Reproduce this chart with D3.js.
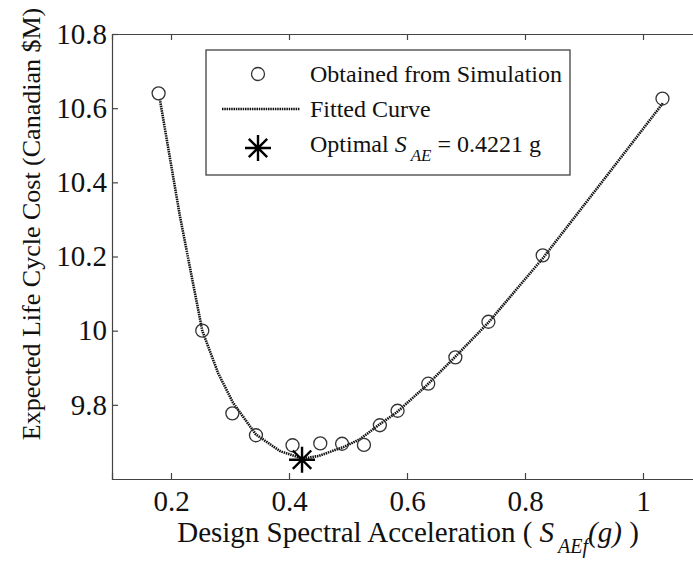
<!DOCTYPE html>
<html>
<head>
<meta charset="utf-8">
<script src="https://cdn.jsdelivr.net/npm/d3@7"></script>
<style>
  body { margin: 0; background: #fff; }
  svg text { font-family: "Liberation Serif", "Times New Roman", serif; }
</style>
</head>
<body>
<div id="vis"></div>
<script>
// simulation results (S_AEf in g, cost in Canadian $M)
var simX = [0.179, 0.253, 0.304, 0.344, 0.406, 0.453, 0.490, 0.527, 0.554, 0.584, 0.636, 0.682, 0.738, 0.830, 1.033];
var simY = [10.640, 10.000, 9.777, 9.718, 9.691, 9.696, 9.695, 9.692, 9.745, 9.784, 9.857, 9.928, 10.024, 10.203, 10.626];

// fitted curve
var fitX = [0.181, 0.215, 0.253, 0.280, 0.305, 0.344, 0.385, 0.413, 0.4221, 0.450, 0.492, 0.520, 0.554, 0.582, 0.633, 0.682, 0.738, 0.830, 0.930, 1.034];
var fitY = [10.625, 10.31, 10.000, 9.885, 9.806, 9.720, 9.675, 9.660, 9.655, 9.662, 9.686, 9.707, 9.748, 9.779, 9.852, 9.930, 10.022, 10.195, 10.400, 10.614];

var optX = 0.4221, optY = 9.652;

var xTicks = [0.2, 0.4, 0.6, 0.8, 1];
var yTicks = [9.8, 10, 10.2, 10.4, 10.6, 10.8];

var width = 693, height = 565;
var margin = {left: 112, top: 34, bottom: 86};

var x = d3.scaleLinear().domain([0.1, 1.1]).range([margin.left, margin.left + 590]);
var y = d3.scaleLinear().domain([9.6, 10.8]).range([height - margin.bottom, margin.top]);

var svg = d3.select("#vis").append("svg")
    .attr("width", width)
    .attr("height", height);

// axes, MATLAB style ticks pointing inward
var gx = svg.append("g").attr("transform", "translate(0," + y(9.6) + ")")
    .call(d3.axisBottom(x).tickValues(xTicks).tickSize(-6).tickPadding(11).tickFormat(d3.format("~g")));
var gxTop = svg.append("g").attr("transform", "translate(0," + y(10.8) + ")")
    .call(d3.axisTop(x).tickValues(xTicks).tickSize(-6).tickFormat(""));
var gy = svg.append("g").attr("transform", "translate(" + x(0.1) + ",0)")
    .call(d3.axisLeft(y).tickValues(yTicks).tickSize(-6).tickPadding(5).tickFormat(d3.format("~g")));

[gx, gxTop, gy].forEach(function(g){
    g.attr("font-family", null).attr("font-size", null);
    g.select(".domain").attr("stroke", "#444").attr("stroke-width", 1.2);
    g.selectAll(".tick line").attr("stroke", "#444").attr("stroke-width", 1.2);
    g.selectAll(".tick text")
        .style("font-size", "29px")
        .style("font-family", "'Liberation Serif', serif")
        .attr("fill", "#111");
});

// fitted curve
var line = d3.line().x(function(d){ return x(d[0]); }).y(function(d){ return y(d[1]); });
svg.append("path")
    .datum(d3.zip(fitX, fitY))
    .attr("d", line)
    .attr("fill", "none")
    .attr("stroke", "#111")
    .attr("stroke-width", 2.6)
    .attr("stroke-dasharray", "1.5,0.8");

// simulation points
svg.selectAll(".pt").data(d3.zip(simX, simY)).enter()
    .append("circle")
    .attr("class", "pt")
    .attr("cx", function(d){ return x(d[0]); })
    .attr("cy", function(d){ return y(d[1]); })
    .attr("r", 6.5)
    .attr("fill", "none")
    .attr("stroke", "#333")
    .attr("stroke-width", 1.3);

function star(g, cx, cy, r){
    var a = r * Math.SQRT1_2;
    var p = "M" + (cx - r) + "," + cy + "H" + (cx + r) +
            "M" + cx + "," + (cy - r) + "V" + (cy + r) +
            "M" + (cx - a) + "," + (cy - a) + "L" + (cx + a) + "," + (cy + a) +
            "M" + (cx - a) + "," + (cy + a) + "L" + (cx + a) + "," + (cy - a);
    g.append("path").attr("d", p).attr("stroke", "#000").attr("stroke-width", 2.4).attr("fill", "none");
}
star(svg, x(optX), y(optY), 13);

// legend
var lg = svg.append("g");
lg.append("rect").attr("x", 206).attr("y", 50).attr("width", 364).attr("height", 125)
    .attr("fill", "#fff").attr("stroke", "#333").attr("stroke-width", 1.2);
lg.append("circle").attr("cx", 258).attr("cy", 74).attr("r", 6.5)
    .attr("fill", "none").attr("stroke", "#333").attr("stroke-width", 1.3);
lg.append("line").attr("x1", 222).attr("x2", 300).attr("y1", 109).attr("y2", 109)
    .attr("stroke", "#111").attr("stroke-width", 2.6).attr("stroke-dasharray", "1.5,0.8");
star(lg, 258, 148, 13);

var legFont = 24;
lg.append("text").attr("x", 310).attr("y", 82).attr("font-size", legFont).attr("fill", "#111")
    .text("Obtained from Simulation");
lg.append("text").attr("x", 310).attr("y", 117).attr("font-size", legFont).attr("fill", "#111")
    .text("Fitted Curve");
var t3 = lg.append("text").attr("x", 310).attr("y", 152).attr("font-size", legFont).attr("fill", "#111");
t3.append("tspan").text("Optimal ");
t3.append("tspan").attr("font-style", "italic").text("S");
t3.append("tspan").attr("font-style", "italic").attr("font-size", 17).attr("dy", 9).attr("dx", 4).text("AE");
t3.append("tspan").attr("dy", -9).text(" = 0.4221 g");

// axis titles
var xt = svg.append("text").attr("x", 408).attr("y", 542).attr("text-anchor", "middle")
    .attr("font-size", 29).attr("fill", "#111");
xt.append("tspan").text("Design Spectral Acceleration ( ");
xt.append("tspan").attr("font-style", "italic").text("S");
xt.append("tspan").attr("font-style", "italic").attr("font-size", 20).attr("dy", 11).attr("dx", 4).text("AEf");
xt.append("tspan").attr("font-style", "italic").attr("dy", -11).text("(g)");
xt.append("tspan").text(" )");

svg.append("text")
    .attr("transform", "translate(40," + 224 + ") rotate(-90)")
    .attr("text-anchor", "middle")
    .attr("font-size", 26)
    .attr("fill", "#111")
    .text("Expected Life Cycle Cost (Canadian $M)");
</script>
</body>
</html>
